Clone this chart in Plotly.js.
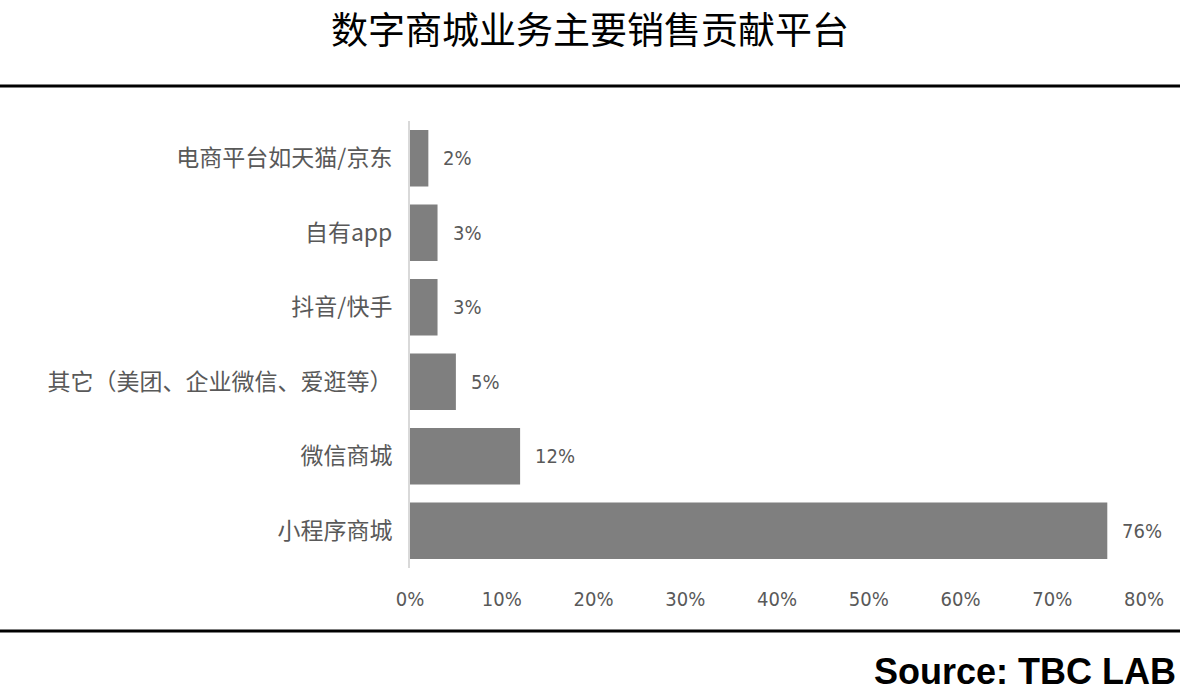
<!DOCTYPE html>
<html>
<head>
<meta charset="utf-8">
<script src="https://cdn.plot.ly/plotly-3.0.1.min.js"></script>
<style>html,body{margin:0;padding:0;background:#fff;}#chart{width:1198px;height:700px;}</style>
</head>
<body>
<div id="chart"></div>
<script>
const categories = ["电商平台如天猫/京东", "自有app", "抖音/快手", "其它（美团、企业微信、爱逛等）", "微信商城", "小程序商城"];
const values = [2, 3, 3, 5, 12, 76];
const labels = ["2%", "3%", "3%", "5%", "12%", "76%"];
const tickVals = [0, 10, 20, 30, 40, 50, 60, 70, 80];
const tickText = ["0%", "10%", "20%", "30%", "40%", "50%", "60%", "70%", "80%"];
const titleText = "数字商城业务主要销售贡献平台";
const sourceText = "Source: TBC LAB";

const cjk = '"Noto Sans CJK SC", "Noto Sans", sans-serif';
const narrow = '"Liberation Sans Narrow", "DejaVu Sans Condensed", sans-serif';

const trace = {
  type: 'bar',
  orientation: 'h',
  x: values,
  y: categories,
  marker: {color: '#7f7f7f'},
  width: 0.76,
  hoverinfo: 'none'
};

const valueAnnotations = values.map((v, i) => ({
  x: v, y: categories[i], xref: 'x', yref: 'y',
  text: labels[i], showarrow: false, xanchor: 'left', xshift: 13,
  font: {family: narrow, size: 20, color: '#595959'}
}));

const layout = {
  width: 1198, height: 700,
  paper_bgcolor: '#fff', plot_bgcolor: '#fff',
  margin: {l: 410, r: 54, t: 121, b: 132},
  showlegend: false,
  title: {
    text: titleText, x: 590/1198, xanchor: 'center', xref: 'container',
    y: 1 - 31/700, yref: 'container', yanchor: 'middle',
    font: {family: cjk, size: 37, color: '#000'}
  },
  xaxis: {
    range: [0, 80], tickvals: tickVals, ticktext: tickText,
    showgrid: false, zeroline: false, showline: false, ticks: '',
    tickfont: {family: narrow, size: 20, color: '#595959'},
    ticklabelstandoff: 17
  },
  yaxis: {
    autorange: 'reversed', showgrid: false, zeroline: false,
    showline: true, linecolor: '#d9d9d9', linewidth: 2, ticks: '',
    tickfont: {family: cjk, size: 23, color: '#595959'},
    ticklabelstandoff: 11
  },
  shapes: [
    {type: 'line', xref: 'paper', yref: 'paper', x0: -410/734, x1: (1180-410)/734, y0: (568-86)/447, y1: (568-86)/447, line: {color: '#000', width: 3}},
    {type: 'line', xref: 'paper', yref: 'paper', x0: -410/734, x1: (1180-410)/734, y0: (568-631)/447, y1: (568-631)/447, line: {color: '#000', width: 3}}
  ],
  annotations: valueAnnotations.concat([{
    text: sourceText, showarrow: false, xref: 'paper', yref: 'paper',
    x: (1178-410)/734, xanchor: 'right', y: (568-671)/447, yanchor: 'middle',
    font: {family: '"Liberation Sans", Arial, sans-serif', size: 36, color: '#000', weight: 'bold'}
  }])
};

Plotly.newPlot('chart', [trace], layout, {displayModeBar: false, staticPlot: true});
</script>
</body>
</html>
